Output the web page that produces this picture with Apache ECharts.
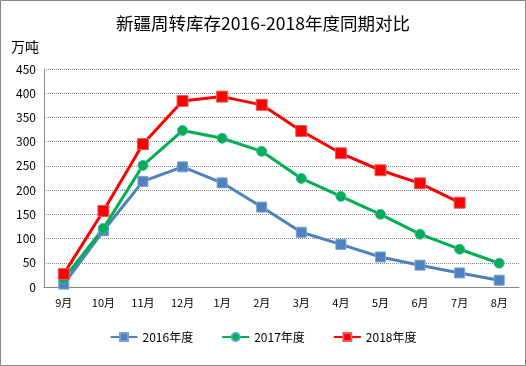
<!DOCTYPE html>
<html><head><meta charset="utf-8">
<script src="https://cdn.jsdelivr.net/npm/echarts@6/dist/echarts.min.js"></script>
<style>html,body{margin:0;padding:0;background:#fff}#c{width:526px;height:366px}</style>
</head><body><div id="c"></div>
<script>
const categories = ['9月','10月','11月','12月','1月','2月','3月','4月','5月','6月','7月','8月'];
const s2016 = [6,116,218,248,215,165,113,88,62,45,29,14];
const s2017 = [17,121,251,323,307,280,224,187,150,109,78,49];
const s2018 = [27,157,295,384,393,376,322,276,241,214,174];
const yTicks = [0,50,100,150,200,250,300,350,400,450];
const font = '"Noto Sans CJK SC", sans-serif';
const chart = echarts.init(document.getElementById('c'));
chart.setOption({
  animation:false,
  textStyle:{fontFamily:font},
  title:{text:'新疆周转库存2016-2018年度同期对比',left:'center',top:10,textStyle:{fontSize:17.5,fontWeight:'normal',color:'#000',fontFamily:font}},
  graphic:[{type:'rect',shape:{x:0.5,y:0.5,width:525,height:365},style:{fill:'none',stroke:'#888',lineWidth:1}},
           {type:'text',left:11,top:40,style:{text:'万吨',font:'14px '+font,fill:'#000'}}],
  legend:{bottom:18,left:'center',itemGap:28,itemWidth:27,itemHeight:10,textStyle:{fontSize:12,color:'#000'},
    data:['2016年度','2017年度','2018年度']},
  grid:{left:44,right:7,top:69,bottom:79},
  xAxis:{type:'category',data:categories,boundaryGap:true,
    axisLine:{lineStyle:{color:'#888'}},axisTick:{show:false},
    axisLabel:{color:'#000',fontSize:11,margin:10}},
  yAxis:{type:'value',min:yTicks[0],max:yTicks[yTicks.length-1],interval:50,
    axisLine:{show:true,lineStyle:{color:'#888'}},axisTick:{show:false},
    axisLabel:{color:'#000',fontSize:12,margin:8},
    splitLine:{lineStyle:{color:'#888',type:'dotted'}}},
  series:[
    {name:'2016年度',type:'line',data:s2016,symbol:'rect',symbolSize:10,
     lineStyle:{color:'#4F81BD',width:3},itemStyle:{color:'#4F81BD',borderColor:'#7BA0D6',borderWidth:1}},
    {name:'2017年度',type:'line',data:s2017,symbol:'circle',symbolSize:10,
     lineStyle:{color:'#00B050',width:3},itemStyle:{color:'#00B050',borderColor:'#4BACC6',borderWidth:1}},
    {name:'2018年度',type:'line',data:s2018,symbol:'rect',symbolSize:11,
     lineStyle:{color:'#FF0000',width:3},itemStyle:{color:'#FF0000',borderColor:'#E06060',borderWidth:1}}
  ]
});
</script></body></html>
